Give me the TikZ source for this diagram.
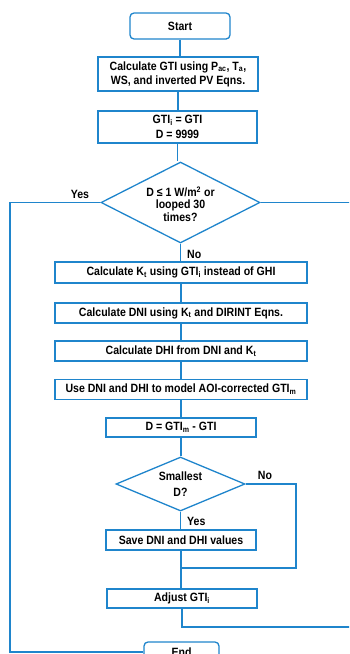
\documentclass[tikz,border=0pt]{standalone}
\usepackage{fontspec}
\setmainfont{Liberation Sans}[FakeStretch=0.88]
\usetikzlibrary{shapes.geometric}

\definecolor{flowblue}{RGB}{31,133,204}

\tikzset{
	procbox/.style = {draw=flowblue, line width=1.3pt, fill=white, align=center, inner sep=1pt},
	termbox/.style = {procbox, rounded corners=4pt},
	decision/.style = {draw=flowblue, line width=1.3pt, fill=white, diamond, inner sep=0pt, align=center},
	lbl/.style = {inner sep=0pt},
	conn/.style = {draw=flowblue, line width=1.3pt}
}

\begin{document}
\begin{tikzpicture}[x=1pt, y=-1pt, font=\fontsize{12}{14}\selectfont\bfseries]
				\useasboundingbox (0,0) rectangle (349,654);
				\clip (0,0) rectangle (349,654);
				% main column
				\node [termbox, minimum width=100pt, minimum height=26pt] (start) at (180,26) {Start};
				\node [procbox, minimum width=160pt, minimum height=34pt] (calc) at (178,74) {Calculate GTI using P\textsubscript{ac}, T\textsubscript{a},\\ WS, and inverted PV Eqns.};
				\node [procbox, minimum width=159pt, minimum height=32pt] (init) at (177.5,127) {GTI\textsubscript{i} = GTI\\[1pt] D = 9999};
				\node [decision, minimum width=159pt, minimum height=81pt, aspect=1.96] (loop) at (180.5,202.5) {};
				\node [lbl, align=center, font=\fontsize{12}{12.5}\selectfont\bfseries] (looptext) at (180.5,204) {D ≤ 1 W/m\textsuperscript{2} or\\ looped 30\\ times?};
				\node [procbox, minimum width=252pt, minimum height=21pt] (kt) at (181,272.5) {Calculate K\textsubscript{t} using GTI\textsubscript{i} instead of GHI};
				\node [procbox, minimum width=252pt, minimum height=20pt] (dni) at (181,313) {Calculate DNI using K\textsubscript{t} and DIRINT Eqns.};
				\node [procbox, minimum width=252pt, minimum height=20pt] (dhi) at (181,351) {Calculate DHI from DNI and K\textsubscript{t}};
				\node [procbox, minimum width=252pt, minimum height=20pt] (aoi) at (181,389.5) {Use DNI and DHI to model AOI-corrected GTI\textsubscript{m}};
				\node [procbox, minimum width=150pt, minimum height=19pt] (diff) at (181,427.5) {D = GTI\textsubscript{m} - GTI};
				\node [decision, minimum width=129pt, minimum height=54pt, aspect=2.39] (smallest) at (180.5,484) {Smallest\\[2pt] D?};
				\node [procbox, minimum width=150pt, minimum height=20pt] (save) at (181,540) {Save DNI and DHI values};
				\node [procbox, minimum width=150pt, minimum height=19pt] (adjust) at (182,598.5) {Adjust GTI\textsubscript{i}};
				\node [termbox, minimum width=75pt, minimum height=20pt] (end) at (181.5,652) {End};

				% branch labels
				\node [lbl] (yes1) at (80,194) {Yes};
				\node [lbl, anchor=west] (no1) at (187,254) {No};
				\node [lbl] (no2) at (265,475) {No};
				\node [lbl, anchor=west] (yes2) at (187,521) {Yes};

				% turning points
				\coordinate (lft) at (10,202.5);
				\coordinate (skip) at (296,568);
				\coordinate (rgt) at (352,0);
				\coordinate (back) at (352,627);

				% connectors
				\foreach \a/\b in {start/calc, calc/init, init/loop, loop/kt, kt/dni, dni/dhi, dhi/aoi, aoi/diff, diff/smallest, smallest/save, save/adjust}
					\draw [conn] (\a.south) -- (\a.south |- \b.north);
				\draw [conn] (loop.west) -- (lft) |- (end.west);
				\draw [conn] (loop.east) -- (loop.east -| rgt);
				\draw [conn] (smallest.east) -| (skip) -- (skip -| save.south);
				\draw [conn] (adjust.south) |- (back);
			\end{tikzpicture}
\end{document}
